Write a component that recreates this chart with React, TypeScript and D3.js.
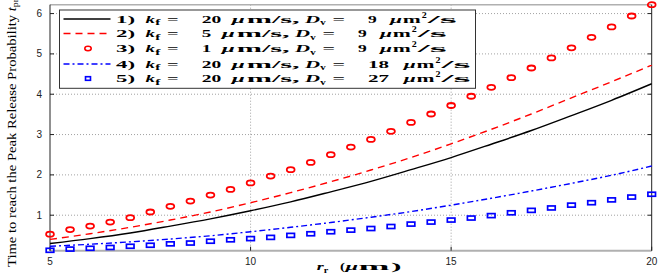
import React from "react";
import * as d3 from "d3";

// x positions of the curves (μm)
const xLine = [5, 6, 7, 8, 9, 10, 11, 12, 13, 14, 15, 16, 17, 18, 19, 20];
// x positions of the marker series (μm)
const xMarker = [
  5, 5.5, 6, 6.5, 7, 7.5, 8, 8.5, 9, 9.5, 10, 10.5, 11, 11.5, 12, 12.5, 13,
  13.5, 14, 14.5, 15, 15.5, 16, 16.5, 17, 17.5, 18, 18.5, 19, 19.5, 20,
];

// 1) kf = 20, Dv = 9
const kf20Dv9 = [0.3, 0.42, 0.56, 0.73, 0.91, 1.11, 1.33, 1.58, 1.84, 2.13, 2.43, 2.76, 3.1, 3.47, 3.85, 4.26];
// 2) kf = 5, Dv = 9
const kf5Dv9 = [0.4, 0.54, 0.7, 0.88, 1.08, 1.31, 1.56, 1.83, 2.12, 2.43, 2.77, 3.13, 3.51, 3.91, 4.31, 4.72];
// 3) kf = 1, Dv = 9 (circles)
const kf1Dv9 = [
  0.53, 0.645, 0.73, 0.83, 0.94, 1.08, 1.22, 1.35, 1.5, 1.64, 1.8, 1.97, 2.13,
  2.31, 2.5, 2.69, 2.88, 3.08, 3.3, 3.51, 3.72, 3.95, 4.17, 4.41, 4.65, 4.9,
  5.15, 5.41, 5.67, 5.94, 6.22,
];
// 4) kf = 20, Dv = 18
const kf20Dv18 = [0.23, 0.28, 0.34, 0.41, 0.49, 0.59, 0.7, 0.82, 0.95, 1.09, 1.25, 1.42, 1.6, 1.79, 1.99, 2.22];
// 5) kf = 20, Dv = 27 (squares)
const kf20Dv27 = [
  0.13, 0.16, 0.18, 0.2, 0.23, 0.255, 0.29, 0.31, 0.355, 0.39, 0.42, 0.45,
  0.5, 0.54, 0.59, 0.63, 0.67, 0.72, 0.78, 0.83, 0.88, 0.93, 0.99, 1.06, 1.12,
  1.18, 1.25, 1.31, 1.38, 1.45, 1.52,
];

const xTicks = [5, 10, 15, 20];
const yTicks = [1, 2, 3, 4, 5, 6];

const legendKf = ["20", "5", "1", "20", "20"];
const legendDv = ["9", "9", "9", "18", "27"];

const W = 664;
const H = 277;
const plot = { left: 50, right: 651.7, top: 4.7, bottom: 250.7 };

const serif = "'Liberation Serif', 'DejaVu Serif', serif";
const sans = "'Liberation Sans', Arial, sans-serif";

// a piece of bold math text stretched to a measured width
type Seg = { t: string; x: number; w: number; it?: boolean; dy?: number; fs?: number; sx?: number };

const Bold = ({ segs, y }: { segs: Seg[]; y: number }) => (
  <g>
    {segs.map((s, i) =>
      s.sx ? (
        // "=" is stretched with a transform (textLength drops it)
        <text
          key={i}
          transform={`translate(${s.x},${y + (s.dy ?? 0)}) scale(${s.sx},1)`}
          fontFamily={serif}
          fontWeight="bold"
          fontSize={s.fs ?? 11}
          fill="#000"
        >
          {s.t}
        </text>
      ) : (
        <text
          key={i}
          x={s.x}
          y={y + (s.dy ?? 0)}
          fontFamily={serif}
          fontWeight="bold"
          fontStyle={s.it ? "italic" : "normal"}
          fontSize={s.fs ?? 11}
          textLength={s.w}
          lengthAdjust="spacingAndGlyphs"
          fill="#000"
        >
          {s.t}
        </text>
      )
    )}
  </g>
);

export default function App() {
  const x = d3.scaleLinear().domain([5, 20]).range([plot.left, plot.right]);
  const y = d3.scaleLinear().domain([0.12, 6.22]).range([plot.bottom, plot.top]);

  const line = (vals: number[]) =>
    d3
      .line<number>()
      .x((_, i) => x(xLine[i]))
      .y((d) => y(d))
      .curve(d3.curveMonotoneX)(vals) as string;

  const lineStyles = [
    { data: kf20Dv9, color: "#000", dash: "none" },
    { data: kf5Dv9, color: "#ff0000", dash: "7,5" },
    { data: kf20Dv18, color: "#0000ff", dash: "6,3,2,3" },
  ];

  const legendRows = [19, 33.5, 48.5, 64, 78.5];
  const legendKinds = ["solid", "dashed", "circle", "dashdot", "square"];

  const legendSegs = (i: number): Seg[] => {
    const kf = legendKf[i];
    const dv = legendDv[i];
    const a = 201.7 + 10 * kf.length;
    const d = a + 83.3;
    const dvStart = d + 63;
    const b = dvStart + (dv.length === 1 ? 8.7 : 22.5);
    return [
      { t: `${i + 1})`, x: 116, w: 19 },
      { t: "k", x: 145.5, w: 9.5, it: true },
      { t: "f", x: 155.3, w: 5, dy: 2.5, fs: 8 },
      { t: "=", x: 167, w: 11.6, sx: 1.85, fs: 11, dy: -0.3 },
      { t: kf, x: 201.7, w: 10 * kf.length - 0.5 },
      { t: "μ", x: a + 10, w: 13, it: true },
      { t: "m/s,", x: a + 25, w: 53 },
      { t: "D", x: d, w: 15, it: true },
      { t: "v", x: d + 15.3, w: 5.5, dy: 2.5, fs: 8 },
      { t: "=", x: d + 27.5, w: 12.5, sx: 2.0, fs: 11, dy: -0.3 },
      { t: dv, x: dvStart, w: dv.length === 1 ? 8.7 : 21 },
      { t: "μ", x: b + 13.3, w: 12, it: true },
      { t: "m", x: b + 26, w: 18 },
      { t: "2", x: b + 45, w: 5, dy: -5, fs: 7.5 },
      { t: "/s", x: b + 51, w: 29 },
    ];
  };

  return (
    <svg
      width={W}
      height={H}
      style={{ position: "absolute", left: 0, top: 0, background: "#fff" }}
    >
      {/* grid */}
      {xTicks
        .filter((t) => t > 5 && t < 20)
        .map((t) => (
          <line
            key={"gx" + t}
            x1={x(t)}
            x2={x(t)}
            y1={plot.top}
            y2={plot.bottom}
            stroke="#8a8a8a"
            strokeWidth={0.8}
            strokeDasharray="1,2"
          />
        ))}
      {yTicks.map((t) => (
        <line
          key={"gy" + t}
          x1={plot.left}
          x2={plot.right}
          y1={y(t)}
          y2={y(t)}
          stroke="#8a8a8a"
          strokeWidth={0.8}
          strokeDasharray="1,2"
        />
      ))}

      {/* axes box */}
      <line x1={plot.left} x2={plot.right} y1={plot.top} y2={plot.top} stroke="#b0b0b0" strokeWidth={1.5} />
      <line x1={plot.left} x2={plot.right} y1={plot.bottom} y2={plot.bottom} stroke="#b0b0b0" strokeWidth={2} />
      <line x1={plot.left} x2={plot.left} y1={plot.top} y2={plot.bottom} stroke="#222" strokeWidth={1} />
      <line x1={plot.right} x2={plot.right} y1={plot.top} y2={plot.bottom} stroke="#222" strokeWidth={1} />

      {/* ticks */}
      {yTicks.map((t) => (
        <g key={"ty" + t}>
          <line x1={plot.left} x2={plot.left + 4} y1={y(t)} y2={y(t)} stroke="#222" />
          <line x1={plot.right - 4} x2={plot.right} y1={y(t)} y2={y(t)} stroke="#222" />
          <text x={42} y={y(t) + 3.5} textAnchor="end" fontFamily={sans} fontSize={10} fill="#222">
            {t}
          </text>
        </g>
      ))}
      {xTicks.map((t) => (
        <g key={"tx" + t}>
          <line x1={x(t)} x2={x(t)} y1={plot.bottom} y2={plot.bottom - 4} stroke="#222" />
          <text x={x(t)} y={265} textAnchor="middle" fontFamily={sans} fontSize={10} fill="#222">
            {t}
          </text>
        </g>
      ))}

      {/* lines */}
      {lineStyles.map((s, i) => (
        <path
          key={"l" + i}
          d={line(s.data)}
          fill="none"
          stroke={s.color}
          strokeWidth={1.4}
          strokeDasharray={s.dash}
        />
      ))}

      {/* circles */}
      {kf1Dv9.map((v, i) => (
        <ellipse key={"c" + i} cx={x(xMarker[i])} cy={y(v)} rx={3.9} ry={2.5} fill="none" stroke="#ff0000" strokeWidth={1.8} />
      ))}
      {/* squares */}
      {kf20Dv27.map((v, i) => (
        <rect
          key={"s" + i}
          x={x(xMarker[i]) - 3.8}
          y={y(v) - 2}
          width={7.6}
          height={4}
          fill="none"
          stroke="#0000ff"
          strokeWidth={1.7}
        />
      ))}

      {/* legend */}
      <rect x={59.5} y={10} width={416} height={78.3} fill="#fff" stroke="#333" strokeWidth={1} />
      {legendRows.map((ry, i) => {
        const kind = legendKinds[i];
        const color = i === 0 ? "#000" : i === 1 || i === 2 ? "#ff0000" : "#0000ff";
        return (
          <g key={"lg" + i}>
            {kind === "solid" && <line x1={63.5} x2={110.5} y1={ry} y2={ry} stroke={color} strokeWidth={1.4} />}
            {kind === "dashed" && (
              <line x1={63.5} x2={110.5} y1={ry} y2={ry} stroke={color} strokeWidth={1.4} strokeDasharray="7,5" />
            )}
            {kind === "dashdot" && (
              <line x1={63.5} x2={110.5} y1={ry} y2={ry} stroke={color} strokeWidth={1.4} strokeDasharray="6,3,2,3" />
            )}
            {kind === "circle" && <ellipse cx={88} cy={ry} rx={3.2} ry={2.2} fill="none" stroke={color} strokeWidth={1.6} />}
            {kind === "square" && (
              <rect x={85.5} y={ry - 1.8} width={5} height={3.6} fill="none" stroke={color} strokeWidth={1.6} />
            )}
            <Bold segs={legendSegs(i)} y={ry + 3.8} />
          </g>
        );
      })}

      {/* x label */}
      <Bold
        y={270}
        segs={[
          { t: "r", x: 316.7, w: 7, it: true },
          { t: "r", x: 323.8, w: 4.5, dy: 2.5, fs: 8 },
          { t: "(", x: 340, w: 5 },
          { t: "μ", x: 345.5, w: 12.5, it: true },
          { t: "m", x: 358.5, w: 31 },
          { t: ")", x: 391, w: 10.5 },
        ]}
      />

      {/* y label */}
      <text
        transform="translate(16,267) rotate(-90)"
        fontFamily={serif}
        fontSize={13.5}
        fill="#000"
        textLength={268}
        lengthAdjust="spacingAndGlyphs"
      >
        <tspan>Time to reach the Peak Release Probability </tspan>
        <tspan fontStyle="italic">t</tspan>
        <tspan fontSize={9} dy={2}>pr</tspan>
      </text>
    </svg>
  );
}
